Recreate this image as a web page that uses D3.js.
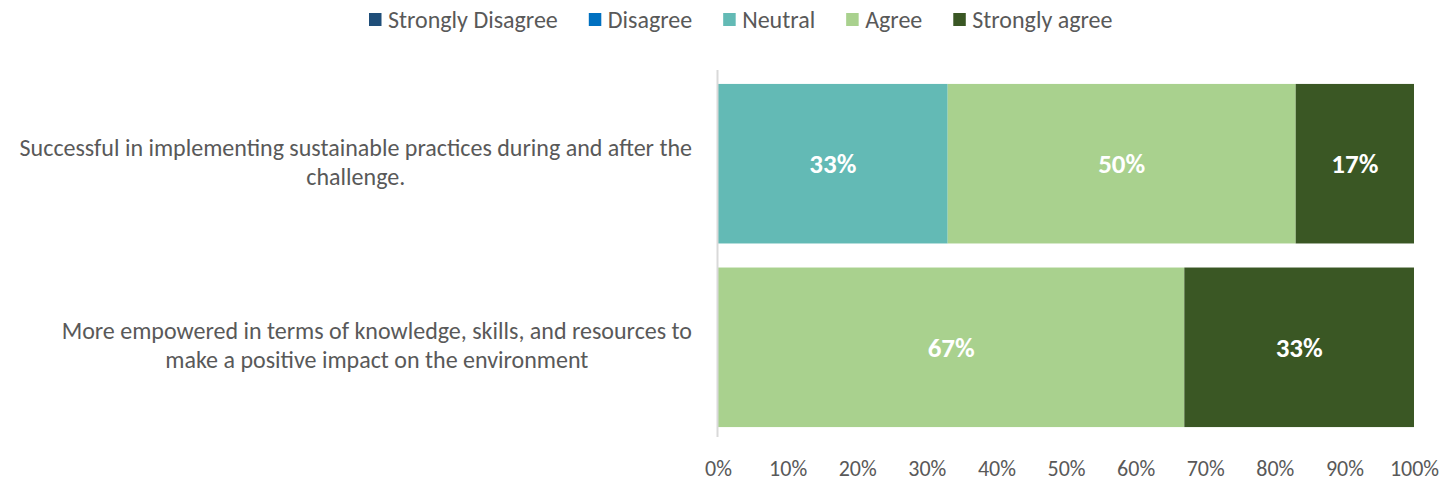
<!DOCTYPE html>
<html>
<head>
<meta charset="utf-8">
<script src="https://cdn.jsdelivr.net/npm/d3@7"></script>
<style>
  html, body { margin: 0; padding: 0; background: #fff; }
  svg { display: block; font-family: Carlito, "Liberation Sans", Arial, sans-serif; }
</style>
</head>
<body>
<svg id="chart" width="1447" height="483"></svg>
<script>
// Survey statements (each split into its display lines)
const statements = [
  ["Successful in implementing sustainable practices during and after the", "challenge."],
  ["More empowered in terms of knowledge, skills, and resources to", "make a positive impact on the environment"]
];
const responseLevels = ["Strongly Disagree", "Disagree", "Neutral", "Agree", "Strongly agree"];
const levelColors = ["#1f4e79", "#0070c0", "#63bab5", "#a9d18e", "#3a5724"];

// Share of responses (%) per statement, one array per level
const stronglyDisagree = [0, 0];
const disagree = [0, 0];
const neutral = [33, 0];
const agree = [50, 67];
const stronglyAgree = [17, 33];

const tickValues = [0, 10, 20, 30, 40, 50, 60, 70, 80, 90, 100];

const seriesValues = [stronglyDisagree, disagree, neutral, agree, stronglyAgree];
const rows = statements.map((lines, i) => {
  const row = { key: i };
  responseLevels.forEach((lvl, j) => { row[lvl] = seriesValues[j][i]; });
  return row;
});

const svg = d3.select("#chart");
const textColor = "#595959";

const x = d3.scaleLinear().domain([0, 100]).range([718, 1414]);
const y = d3.scaleBand().domain(d3.range(statements.length))
  .range([72, 439]).paddingInner(0.131).paddingOuter(0.065);

const layers = d3.stack().keys(responseLevels)(rows);
const color = d3.scaleOrdinal().domain(responseLevels).range(levelColors);

// Stacked bars (zero-width segments skipped)
const g = svg.append("g");
layers.forEach(layer => {
  const segs = layer.map((d, i) => ({ d, i })).filter(p => p.d[1] - p.d[0] > 0);
  g.selectAll(null)
    .data(segs)
    .join("rect")
    .attr("x", p => x(p.d[0]))
    .attr("width", p => x(p.d[1]) - x(p.d[0]))
    .attr("y", p => y(p.i))
    .attr("height", y.bandwidth())
    .attr("fill", color(layer.key));
});

// Value labels
layers.forEach(layer => {
  layer.forEach((d, i) => {
    const v = d[1] - d[0];
    if (v <= 0) return;
    g.append("text")
      .attr("x", x((d[0] + d[1]) / 2))
      .attr("y", y(i) + y.bandwidth() / 2)
      .attr("dy", "0.35em")
      .attr("text-anchor", "middle")
      .attr("fill", "#fff")
      .attr("font-weight", "bold")
      .attr("font-size", 27)
      .text(v + "%");
  });
});

// Vertical category axis line
svg.append("line")
  .attr("x1", 717.5).attr("x2", 717.5)
  .attr("y1", 70).attr("y2", 437)
  .attr("stroke", "#d9d9d9").attr("stroke-width", 2);

// Percentage axis
const xAxis = d3.axisBottom(x).tickValues(tickValues).tickFormat(d => d + "%").tickSize(0).tickPadding(0);
const ax = svg.append("g").attr("transform", "translate(0,460)").call(xAxis);
ax.attr("font-family", null).attr("font-size", null);
ax.select(".domain").remove();
ax.selectAll("text").attr("fill", textColor).attr("font-size", 22).attr("dy", "0.71em");

// Statement labels: lines centred within a block right-aligned beside the axis
const labelRight = 692;
const lineGap = 29;
statements.forEach((lines, i) => {
  const t = svg.append("text")
    .attr("fill", textColor)
    .attr("font-size", 24)
    .attr("text-anchor", "middle");
  const spans = lines.map(ln => t.append("tspan").text(ln));
  const maxW = d3.max(spans, s => s.node().getComputedTextLength());
  const cx = labelRight - maxW / 2;
  const cy = y(i) + y.bandwidth() / 2;
  spans.forEach((s, k) => {
    s.attr("x", cx).attr("y", cy + (k - (lines.length - 1) / 2) * lineGap + 6.5);
  });
});

// Legend laid out left to right from measured label widths
const lg = svg.append("g");
let lx = 369;
responseLevels.forEach(name => {
  const gi = lg.append("g").attr("transform", `translate(${lx},0)`);
  gi.append("rect").attr("x", 0).attr("y", 13).attr("width", 12.5).attr("height", 13).attr("fill", color(name));
  const t = gi.append("text").attr("x", 19).attr("y", 27.5)
    .attr("fill", textColor).attr("font-size", 24).text(name);
  lx += 19 + t.node().getComputedTextLength() + 31;
});
</script>
</body>
</html>
